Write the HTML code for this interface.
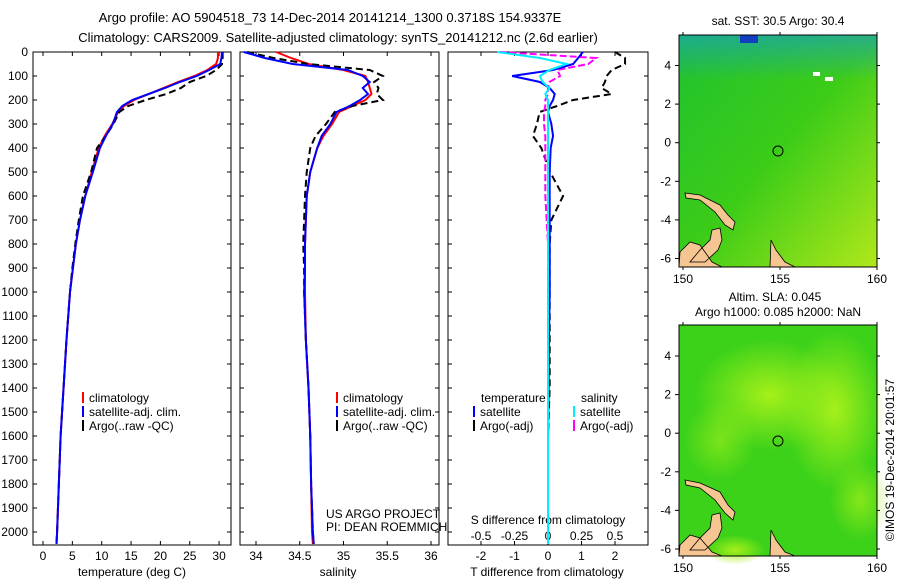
<!DOCTYPE html>
<html><head><meta charset="utf-8"><style>
html,body{margin:0;padding:0;background:#fff}
svg{display:block;font-family:"Liberation Sans",sans-serif}
text{font-size:12px;fill:#000}
</style></head><body>
<svg id="c" width="900" height="580" viewBox="0 0 900 580">
<defs>
<linearGradient id="g1" x1="0" y1="0" x2="1" y2="1">
<stop offset="0" stop-color="#1fc230"/><stop offset="0.5" stop-color="#3ccc18"/><stop offset="1" stop-color="#b0e81a"/></linearGradient>
<linearGradient id="g1t" x1="0" y1="0" x2="0" y2="1">
<stop offset="0" stop-color="#1a9ccc" stop-opacity="0.6"/><stop offset="1" stop-color="#1a9ccc" stop-opacity="0"/></linearGradient>
<radialGradient id="blob"><stop offset="0" stop-color="#a6f01a"/><stop offset="1" stop-color="#a6f01a" stop-opacity="0"/></radialGradient>
</defs>
<g id="titles">
<text x="330" y="22" text-anchor="middle" style="font-size:13px">Argo profile: AO 5904518_73 14-Dec-2014 20141214_1300 0.3718S 154.9337E</text>
<text x="338" y="42" text-anchor="middle" style="font-size:13px">Climatology: CARS2009. Satellite-adjusted climatology: synTS_20141212.nc (2.6d earlier)</text>
</g>
<g id="plots"></g>
<g id="maps">
<g>
<text x="778" y="25" text-anchor="middle">sat. SST: 30.5 Argo: 30.4</text>
<rect x="679" y="35" width="198" height="232" fill="url(#g1)"/>
<rect x="679" y="35" width="198" height="45" fill="url(#g1t)"/>
<rect x="740" y="35" width="18" height="8" fill="#1040c0"/>
<rect x="813" y="72" width="7" height="4" fill="#fff"/><rect x="825" y="77" width="8" height="4" fill="#fff"/>
<path d="M680,252 L690,242 L700,245 L712,262 L722,267 L679,267Z M685,193 L700,195 L720,205 L728,215 L735,222 L733,230 L725,225 L715,212 L700,200 L686,198Z M712,230 L720,228 L722,240 L718,250 L705,262 L690,262 L700,250 L710,240Z M771,240 L776,250 L785,262 L795,267 L770,267Z" fill="#f5c592" stroke="#000" stroke-width="0.8"/>
<circle cx="778" cy="151" r="5" fill="none" stroke="#000"/>
<rect x="679" y="35" width="198" height="232" fill="none" stroke="#000"/>
</g>
<g>
<text x="775" y="301" text-anchor="middle">Altim. SLA: 0.045</text>
<text x="778" y="316" text-anchor="middle">Argo h1000: 0.085 h2000: NaN</text>
<rect x="679" y="325" width="198" height="231" fill="#3dd21a"/>
<ellipse cx="770" cy="395" rx="75" ry="55" fill="url(#blob)"/>
<ellipse cx="835" cy="410" rx="50" ry="80" fill="url(#blob)"/>
<ellipse cx="720" cy="440" rx="35" ry="40" fill="url(#blob)" opacity="0.6"/>
<ellipse cx="860" cy="500" rx="30" ry="40" fill="url(#blob)" opacity="0.7"/>
<ellipse cx="735" cy="550" rx="30" ry="15" fill="url(#blob)"/>
<path d="M680,545 L690,535 L700,538 L712,552 L722,556 L679,556Z M685,480 L700,483 L720,492 L728,505 L735,512 L733,520 L725,513 L715,500 L700,488 L686,485Z M712,515 L720,513 L722,528 L718,538 L705,550 L690,550 L700,538 L710,528Z M771,530 L776,540 L785,552 L795,556 L770,556Z" fill="#f5c592" stroke="#000" stroke-width="0.8"/>
<circle cx="778" cy="441" r="5" fill="none" stroke="#000"/>
<rect x="679" y="325" width="198" height="231" fill="none" stroke="#000"/>
</g>
<text transform="translate(894,460) rotate(-90)" text-anchor="middle">©IMOS 19-Dec-2014 20:01:57</text>
</g>
</svg>
<script>
const depths=[0,25,50,75,100,125,150,175,200,225,250,300,350,400,500,600,700,800,900,1000,1200,1400,1600,1800,2000,2050];
const tempClim=[29.8,29.8,29.5,28,25.8,23,20.5,18,15.5,13.8,12.8,11.8,10.5,9.5,8.3,7.2,6.3,5.6,5.1,4.6,4.0,3.5,3.0,2.7,2.4,2.3];
const tempSat=[30.5,30.4,30.2,28.3,26.2,23.3,20.8,18,15.2,13.5,12.6,11.9,10.7,9.7,8.5,7.2,6.3,5.6,5.1,4.6,4.0,3.5,3.0,2.7,2.4,2.3];
const tempArgo=[30.6,30.6,30.5,29.5,27.8,25,23.5,21,17.5,14.5,13,12,10.7,9.2,8.2,6.8,6.1,5.5,5.0,4.6,4.0,3.5,3.0,2.7,2.4,2.3];
const salClim=[34.23,34.4,34.6,35.0,35.25,35.28,35.3,35.32,35.25,35.1,34.95,34.87,34.77,34.7,34.62,34.58,34.57,34.56,34.56,34.56,34.57,34.6,34.62,34.63,34.64,34.65];
const salSat=[33.86,34.1,34.42,35.05,35.22,35.3,35.22,35.28,35.19,35.07,34.92,34.85,34.75,34.7,34.62,34.58,34.57,34.56,34.56,34.55,34.57,34.6,34.62,34.63,34.65,34.66];
const salArgo=[33.9,34.2,34.6,35.3,35.45,35.35,35.4,35.38,35.45,35.1,34.9,34.8,34.68,34.62,34.58,34.56,34.55,34.54,34.55,34.55,34.57,34.6,34.62,34.63,34.65,34.66];
const tDiffSat=[1.04,0.9,0.75,0.15,-1.07,-0.24,0.05,0.2,0.15,0.05,0,0.1,0.15,0.08,0.05,0.05,0.05,0.05,0.05,0.05,0.03,0.02,0,0,0,0];
const sDiffSat=[-0.38,-0.06,0.14,0.01,-0.06,-0.04,0.01,-0.02,0,0,0,0,0,0,0,0,0,0,0,0,0,0,0,0,0,0];
const tDiffArgo=[2.0,2.3,2.3,1.9,1.75,1.7,1.6,1.9,0.75,0.27,-0.25,-0.33,-0.45,-0.2,0.06,0.45,0.1,0.05,0.05,0.05,0.05,0.05,0,0,0,0];
const sDiffArgo=[-0.36,0.36,0.3,0.07,0.09,0.01,0,0,-0.02,-0.02,-0.03,-0.03,-0.02,-0.02,-0.02,-0.02,-0.01,0,0,0,0,0,0,0,0,0];
const depthTicks=[0,100,200,300,400,500,600,700,800,900,1000,1100,1200,1300,1400,1500,1600,1700,1800,1900,2000];
const tempTicks=[0,5,10,15,20,25,30];
const salTicks=[34,34.5,35,35.5,36];
const tDiffTicks=[-2,-1,0,1,2];
const sDiffTicks=[-0.5,-0.25,0,0.25,0.5];
const mapLatTicks=[4,2,0,-2,-4,-6];
const mapLonTicks=[150,155,160];

const NS='http://www.w3.org/2000/svg';
const root=document.getElementById('plots');
function mk(tag,at,parent){const e=document.createElementNS(NS,tag);for(const k in at)e.setAttribute(k,at[k]);(parent||root).appendChild(e);return e;}
function txt(x,y,s,anchor,parent){const t=mk('text',{x:x,y:y,'text-anchor':anchor||'start'},parent);t.textContent=s;return t;}
const yD=d=>52+d*0.24;
const xT=v=>43+v*5.87;
const xS=v=>256+(v-34)*87.5;
const xTD=v=>548+v*33.5;
const xSD=v=>548+v*134;
const PT=52,PB=545;
function panel(name,x0,x1){const g=mk('g',{});
 mk('rect',{x:x0,y:PT,width:x1-x0,height:PB-PT,fill:'none',stroke:'#000'},g);
 depthTicks.forEach(d=>{mk('line',{x1:x0,x2:x0+4,y1:yD(d),y2:yD(d),stroke:'#000'},g);mk('line',{x1:x1-4,x2:x1,y1:yD(d),y2:yD(d),stroke:'#000'},g);});
 return g;}
function series(g,name,vals,fx,color,dash,w){const p=mk('polyline',{points:vals.map((v,i)=>fx(v)+','+yD(depths[i])).join(' '),fill:'none',stroke:color,'stroke-width':w||2,'stroke-dasharray':dash||'none'},g);
 
 }
function xticks(g,ticks,fx,y,fmt){ticks.forEach(t=>{mk('line',{x1:fx(t),x2:fx(t),y1:PB,y2:PB-4,stroke:'#000'},g);mk('line',{x1:fx(t),x2:fx(t),y1:PT,y2:PT+4,stroke:'#000'},g);txt(fx(t),y,fmt?fmt(t):String(t),'middle',g);});}
function legend(g,x,y,items){items.forEach((it,i)=>{mk('rect',{x:x,y:y+i*14-10,width:2,height:11,fill:it[1]},g);txt(x+7,y+i*14,it[0],'start',g);});}

const dl=mk('g',{});
depthTicks.forEach(d=>txt(28,yD(d)+4,String(d),'end',dl));

const g1=panel('temperature-panel',33,231);
xticks(g1,tempTicks,xT,560);
txt(132,576,'temperature (deg C)','middle',g1);
series(g1,'temp-climatology-line',tempClim,xT,'#f00');
series(g1,'temp-argo-line',tempArgo,xT,'#000','7,4');
series(g1,'temp-satellite-line',tempSat,xT,'#00f');
legend(g1,82,402,[['climatology','#f00'],['satellite-adj. clim.','#00f'],['Argo(..raw -QC)','#000']]);

const g2=panel('salinity-panel',240,439);
xticks(g2,salTicks,xS,560);
txt(338,576,'salinity','middle',g2);
series(g2,'sal-climatology-line',salClim,xS,'#f00');
series(g2,'sal-argo-line',salArgo,xS,'#000','7,4');
series(g2,'sal-satellite-line',salSat,xS,'#00f');
legend(g2,336,402,[['climatology','#f00'],['satellite-adj. clim.','#00f'],['Argo(..raw -QC)','#000']]);
txt(326,518,'US ARGO PROJECT','start',g2);
txt(326,531,'PI: DEAN ROEMMICH','start',g2);

const g3=panel('difference-panel',448,648);
xticks(g3,tDiffTicks,xTD,560);
sDiffTicks.forEach(t=>txt(xSD(t),540,String(t),'middle',g3));
txt(548,524,'S difference from climatology','middle',g3);
txt(547,576,'T difference from climatology','middle',g3);
series(g3,'t-diff-argo-line',tDiffArgo,xTD,'#000','7,4');
series(g3,'s-diff-argo-line',sDiffArgo,xSD,'#f0f','7,3');
series(g3,'t-diff-satellite-line',tDiffSat,xTD,'#00f');
series(g3,'s-diff-satellite-line',sDiffSat,xSD,'#0ef');
txt(481,402,'temperature','start',g3);txt(581,402,'salinity','start',g3);
legend(g3,473,416,[['satellite','#00f'],['Argo(-adj)','#000']]);
legend(g3,573,416,[['satellite','#0ef'],['Argo(-adj)','#f0f']]);

const mg=document.getElementById('maps');
[[35,267,258.5],[325,556,549]].forEach((m,k)=>{
 const yL=la=>m[2]-( la+6)*19.3;
 const xL=lo=>683+(lo-150)*19.4;
 mapLatTicks.forEach(la=>{mk('line',{x1:679,x2:675,y1:yL(la),y2:yL(la),stroke:'#000'},mg);mk('line',{x1:877,x2:880,y1:yL(la),y2:yL(la),stroke:'#000'},mg);txt(671,yL(la)+4,String(la),'end',mg);});
 mapLonTicks.forEach(lo=>{mk('line',{x1:xL(lo),x2:xL(lo),y1:m[1],y2:m[1]+3,stroke:'#000'},mg);mk('line',{x1:xL(lo),x2:xL(lo),y1:m[0],y2:m[0]-3,stroke:'#000'},mg);txt(xL(lo),m[1]+16,String(lo),'middle',mg);});
});
</script>
</body></html>
